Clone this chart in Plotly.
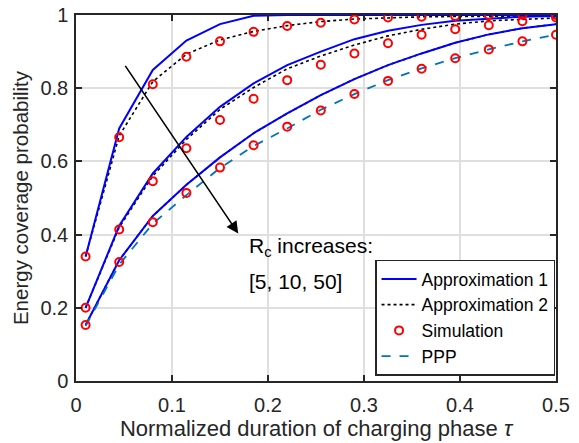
import plotly.graph_objects as go

# Normalized duration of the charging phase (tau)
tau = [0.01, 0.045, 0.08, 0.115, 0.15, 0.185, 0.22, 0.255, 0.29, 0.325,
       0.36, 0.395, 0.43, 0.465, 0.5]

# Approximation 1, one series per Rc
approx1_rc5 = [0.340, 0.690, 0.850, 0.930, 0.975, 0.998, 1.0, 1.0, 1.0, 1.0,
               1.0, 1.0, 1.0, 1.0, 1.0]
approx1_rc10 = [0.200, 0.424, 0.567, 0.667, 0.749, 0.813, 0.863, 0.900, 0.934,
                0.957, 0.973, 0.984, 0.990, 0.995, 0.997]
approx1_rc50 = [0.153, 0.330, 0.451, 0.536, 0.611, 0.677, 0.731, 0.781, 0.825,
                0.863, 0.895, 0.924, 0.947, 0.964, 0.975]

# Approximation 2
approx2_rc5 = [0.340, 0.670, 0.818, 0.893, 0.932, 0.955, 0.971, 0.982, 0.989,
               0.993, 0.995, 0.996, 0.997, 0.997, 0.997]
approx2_rc10 = [0.200, 0.420, 0.560, 0.660, 0.742, 0.802, 0.853, 0.888, 0.918,
                0.943, 0.961, 0.975, 0.984, 0.989, 0.992]
approx2_rc50 = [0.153, 0.330, 0.451, 0.536, 0.611, 0.677, 0.731, 0.781, 0.825,
                0.863, 0.895, 0.924, 0.947, 0.964, 0.975]

# Monte Carlo simulation
sim_rc5 = [0.340, 0.666, 0.811, 0.886, 0.928, 0.954, 0.970, 0.979, 0.988,
           0.993, 0.995, 0.997, 1.0, 1.0, 1.0]
sim_rc10 = [0.200, 0.414, 0.546, 0.636, 0.713, 0.771, 0.822, 0.864, 0.895,
            0.923, 0.946, 0.961, 0.972, 0.983, 0.993]
sim_rc50 = [0.153, 0.325, 0.434, 0.514, 0.583, 0.644, 0.695, 0.739, 0.784,
            0.820, 0.853, 0.882, 0.906, 0.928, 0.946]

# PPP baseline
ppp = [0.150, 0.318, 0.430, 0.508, 0.582, 0.642, 0.690, 0.741, 0.784, 0.822,
       0.854, 0.882, 0.906, 0.928, 0.946]

x_ticks = [0, 0.1, 0.2, 0.3, 0.4, 0.5]
x_tick_labels = ["0", "0.1", "0.2", "0.3", "0.4", "0.5"]
y_ticks = [0, 0.2, 0.4, 0.6, 0.8, 1.0]
y_tick_labels = ["0", "0.2", "0.4", "0.6", "0.8", "1"]

FONT = "Liberation Sans, Arial, Helvetica, sans-serif"
AXIS_COLOR = "#262626"
BLUE = "#0000FF"
PPP_BLUE = "#0072BD"

fig = go.Figure()

# Approximation 2 drawn first so the solid curves sit on top of it
for i, ys in enumerate([approx2_rc5, approx2_rc10, approx2_rc50]):
    fig.add_trace(go.Scatter(
        x=tau, y=ys, mode="lines", name="Approximation 2",
        line=dict(color="black", width=1.6, dash="dot"),
        legendgroup="a2", legendrank=2, showlegend=(i == 0)))

for i, ys in enumerate([approx1_rc5, approx1_rc10, approx1_rc50]):
    fig.add_trace(go.Scatter(
        x=tau, y=ys, mode="lines", name="Approximation 1",
        line=dict(color=BLUE, width=2),
        legendgroup="a1", legendrank=1, showlegend=(i == 0)))

fig.add_trace(go.Scatter(
    x=tau, y=ppp, mode="lines", name="PPP",
    line=dict(color=PPP_BLUE, width=1.8, dash="dash"),
    legendgroup="ppp", legendrank=4))

for i, ys in enumerate([sim_rc5, sim_rc10, sim_rc50]):
    fig.add_trace(go.Scatter(
        x=tau, y=ys, mode="markers", name="Simulation",
        marker=dict(symbol="circle-open", size=8, color="#FF0000",
                    line=dict(width=2, color="#FF0000")),
        legendgroup="sim", legendrank=3, showlegend=(i == 0)))

# Arrow showing the direction of increasing Rc
fig.add_annotation(
    x=0.169, y=0.403, ax=0.0503, ay=0.865, xref="x", yref="y",
    axref="x", ayref="y", text="", showarrow=True,
    arrowhead=2, arrowsize=1.5, arrowwidth=1.6, arrowcolor="black")

fig.add_annotation(
    x=0.178, y=0.367, xref="x", yref="y", xanchor="left", yanchor="middle",
    text="R<sub>c</sub> increases:", showarrow=False,
    font=dict(family=FONT, size=21, color="black"))
fig.add_annotation(
    x=0.178, y=0.272, xref="x", yref="y", xanchor="left", yanchor="middle",
    text="[5, 10, 50]", showarrow=False,
    font=dict(family=FONT, size=21, color="black"))

axis_common = dict(
    showgrid=True, gridcolor="#DFDFDF", gridwidth=1.5,
    zeroline=False, showline=True, linecolor=AXIS_COLOR, linewidth=1.5,
    mirror="allticks", ticks="inside", ticklen=6, tickwidth=1.5,
    tickcolor=AXIS_COLOR, automargin=False,
    tickfont=dict(family=FONT, size=20, color=AXIS_COLOR),
)

fig.update_xaxes(
    range=[0, 0.5], tickvals=x_ticks, ticktext=x_tick_labels,
    ticklabelstandoff=5,
    title=dict(text="Normalized duration of charging phase <i>τ</i>",
               font=dict(family=FONT, size=22, color=AXIS_COLOR), standoff=4),
    **axis_common)
fig.update_yaxes(
    range=[0, 1], tickvals=y_ticks, ticktext=y_tick_labels,
    ticklabelstandoff=2,
    title=dict(text="Energy coverage probability",
               font=dict(family=FONT, size=20.5, color=AXIS_COLOR), standoff=6),
    **axis_common)

fig.update_layout(
    width=579, height=443,
    margin=dict(l=76, r=23, t=15, b=62),
    plot_bgcolor="white", paper_bgcolor="white",
    font=dict(family=FONT, color=AXIS_COLOR),
    legend=dict(
        x=0.998, y=0.015, xanchor="right", yanchor="bottom",
        bgcolor="white", bordercolor=AXIS_COLOR, borderwidth=1.5,
        font=dict(family=FONT, size=17.5, color="black"),
        tracegroupgap=0, itemwidth=35,
    ),
)

fig.write_html("out.html")
